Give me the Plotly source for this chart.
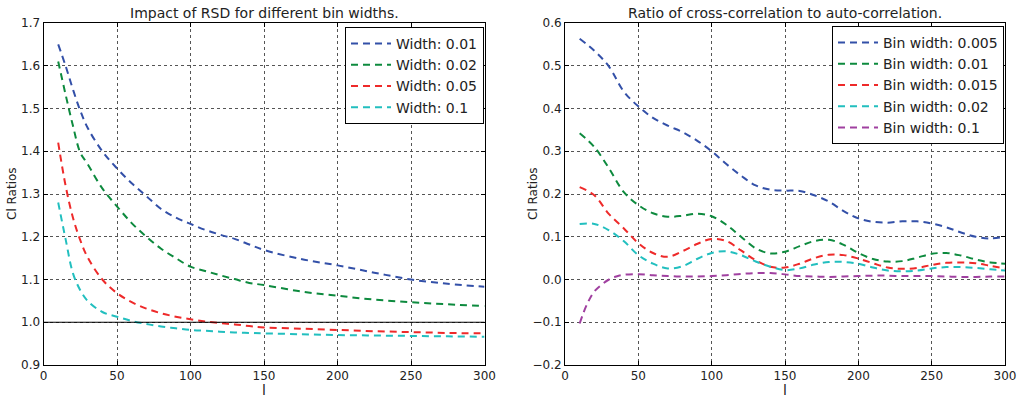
import plotly.graph_objects as go

# ---------------- Left panel data ----------------
l_left = [10, 15, 20, 25, 30, 40, 50, 60, 70, 80, 90, 100, 110, 120, 130, 140, 150, 175, 200, 225, 250, 275, 300]
w001 = [1.65, 1.60, 1.545, 1.495, 1.455, 1.40, 1.36, 1.325, 1.295, 1.265, 1.245, 1.23, 1.216, 1.205, 1.195, 1.182, 1.169, 1.148, 1.133, 1.116, 1.10, 1.09, 1.083]
w002 = [1.61, 1.533, 1.46, 1.397, 1.37, 1.313, 1.271, 1.232, 1.20, 1.172, 1.15, 1.13, 1.12, 1.11, 1.101, 1.092, 1.087, 1.072, 1.062, 1.053, 1.047, 1.042, 1.038]
w005 = [1.42, 1.32, 1.245, 1.192, 1.152, 1.10, 1.068, 1.047, 1.032, 1.021, 1.013, 1.007, 1.002, 0.998, 0.995, 0.991, 0.988, 0.985, 0.982, 0.979, 0.977, 0.975, 0.974]
w01 = [1.28, 1.195, 1.115, 1.075, 1.05, 1.024, 1.013, 1.003, 0.996, 0.99, 0.986, 0.982, 0.98, 0.978, 0.976, 0.975, 0.974, 0.972, 0.970, 0.969, 0.968, 0.967, 0.966]
left_names = ["Width: 0.01", "Width: 0.02", "Width: 0.05", "Width: 0.1"]
unity = 1.0

# ---------------- Right panel data ----------------
l_right = [10, 20, 30, 40, 50, 60, 70, 80, 90, 100, 110, 120, 130, 140, 150, 160, 170, 180, 190, 200,
           210, 220, 230, 240, 250, 260, 270, 280, 290, 300]
b0005 = [0.563, 0.535, 0.498, 0.44, 0.405, 0.378, 0.36, 0.345, 0.325, 0.30, 0.27, 0.243, 0.22, 0.21, 0.208, 0.207, 0.197, 0.182, 0.16, 0.143,
         0.135, 0.133, 0.136, 0.136, 0.131, 0.122, 0.11, 0.10, 0.096, 0.10]
b001 = [0.342, 0.31, 0.26, 0.205, 0.174, 0.155, 0.147, 0.149, 0.154, 0.148, 0.128, 0.10, 0.073, 0.061, 0.065, 0.078, 0.09, 0.093, 0.081, 0.062,
        0.048, 0.042, 0.043, 0.051, 0.06, 0.062, 0.056, 0.047, 0.04, 0.037]
b0015 = [0.216, 0.197, 0.153, 0.12, 0.085, 0.062, 0.053, 0.066, 0.083, 0.095, 0.09, 0.068, 0.045, 0.03, 0.028, 0.037, 0.05, 0.058, 0.057, 0.049,
         0.038, 0.028, 0.025, 0.027, 0.034, 0.039, 0.04, 0.038, 0.032, 0.026]
b002 = [0.13, 0.13, 0.115, 0.09, 0.057, 0.037, 0.026, 0.031, 0.048, 0.062, 0.066, 0.057, 0.042, 0.03, 0.022, 0.026, 0.035, 0.041, 0.041, 0.037,
        0.028, 0.021, 0.019, 0.021, 0.026, 0.029, 0.029, 0.027, 0.024, 0.021]
l_mag = [10, 15, 20, 25, 30, 35, 40, 50, 60, 70, 80, 90, 100, 110, 120, 130, 140, 150, 160, 170, 180, 190, 200,
         210, 220, 230, 240, 250, 260, 270, 280, 290, 300]
b01 = [-0.103, -0.058, -0.028, -0.012, 0.0, 0.007, 0.011, 0.0125, 0.01, 0.008, 0.007, 0.007, 0.008, 0.01, 0.013, 0.015, 0.015, 0.012, 0.008, 0.007, 0.006, 0.007, 0.008,
       0.009, 0.009, 0.008, 0.008, 0.008, 0.007, 0.006, 0.006, 0.007, 0.007]
right_names = ["Bin width: 0.005", "Bin width: 0.01", "Bin width: 0.015", "Bin width: 0.02", "Bin width: 0.1"]

colors = ["#3350a8", "#0d8a3e", "#ee2a2a", "#22bfbf", "#a040a0"]
FONT = "DejaVu Sans"
DASH = "7px,5px"

fig = go.Figure()

for ys, name, c in zip([w001, w002, w005, w01], left_names, colors):
    fig.add_trace(go.Scatter(x=l_left, y=ys, name=name, mode="lines", line_shape="spline",
                             line=dict(color=c, width=2, dash=DASH), xaxis="x", yaxis="y", legend="legend"))

right_x = [l_right, l_right, l_right, l_right, l_mag]
for xs, ys, name, c in zip(right_x, [b0005, b001, b0015, b002, b01], right_names, colors):
    fig.add_trace(go.Scatter(x=xs, y=ys, name=name, mode="lines", line_shape="spline",
                             line=dict(color=c, width=2, dash=DASH), xaxis="x2", yaxis="y2", legend="legend2"))

fig.add_shape(type="line", xref="x domain", yref="y", x0=0, x1=1, y0=unity, y1=unity,
              line=dict(color="black", width=1), layer="above")

W, H = 1023, 397
def px(v): return v / W
def py(v): return 1 - v / H

axis_common = dict(showline=True, linecolor="black", linewidth=1, mirror="ticks", ticks="inside",
                   ticklen=4, tickcolor="black", showgrid=True, gridcolor="#555555", griddash="dot",
                   gridwidth=1, zeroline=False, automargin=False,
                   tickfont=dict(family=FONT, size=12, color="#222"))

leg_common = dict(xanchor="right", yanchor="top", bgcolor="white", bordercolor="black", borderwidth=1,
                  font=dict(family=FONT, size=14, color="#222"), tracegroupgap=0, itemwidth=40)

fig.update_layout(
    width=W, height=H, margin=dict(l=0, r=0, t=0, b=0, autoexpand=False),
    paper_bgcolor="white", plot_bgcolor="white",
    font=dict(family=FONT, size=12, color="#222"),
    xaxis=dict(domain=[px(43.5), px(484.5)], range=[0, 300], dtick=50, anchor="y", **axis_common),
    yaxis=dict(domain=[py(365), py(23)], range=[0.9, 1.7], dtick=0.1, tickformat=".1f", anchor="x", **axis_common),
    xaxis2=dict(domain=[px(565), px(1005)], range=[0, 300], dtick=50, anchor="y2", **axis_common),
    yaxis2=dict(domain=[py(365), py(23)], range=[-0.2, 0.6], dtick=0.1, tickformat=".1f", anchor="x2", **axis_common),
    legend=dict(x=px(484), y=py(27), **leg_common),
    legend2=dict(x=px(1004), y=py(26), **leg_common),
    showlegend=True,
)

def note(text, x, y, size=14, angle=0):
    return dict(text=text, x=px(x), y=py(y), xref="paper", yref="paper", xanchor="center", yanchor="middle",
                textangle=angle, showarrow=False, font=dict(family=FONT, size=size, color="#222"))

ann = [
    note("Impact of RSD for different bin widths.", 264, 13),
    note("Ratio of cross-correlation to auto-correlation.", 785, 13),
    note("Cl Ratios", 12, 194, size=12, angle=-90),
    note("Cl Ratios", 533, 194, size=12, angle=-90),
    note("l", 264, 390, size=14),
    note("l", 785, 390, size=14),
]
fig.update_layout(annotations=ann)

fig.write_html("out.html", config={"displayModeBar": False},
               post_script="document.body.style.margin='0px';")
